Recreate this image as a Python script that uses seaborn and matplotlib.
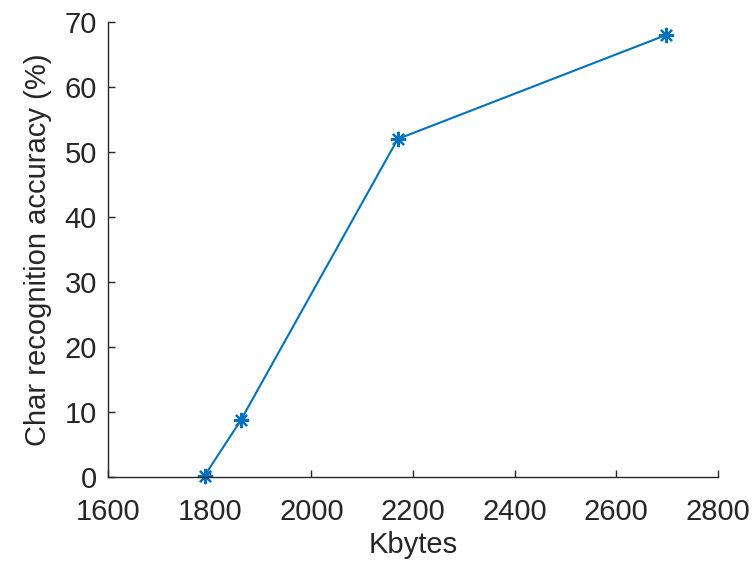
import matplotlib
matplotlib.use("Agg")
import matplotlib.pyplot as plt
import seaborn as sns
import pandas as pd

# Model size (Kbytes) vs character recognition accuracy (%)
kbytes = [1790, 1861, 2170, 2698]
accuracy = [0.2, 8.7, 52, 68]

x_ticks = [1600, 1800, 2000, 2200, 2400, 2600, 2800]
y_ticks = [0, 10, 20, 30, 40, 50, 60, 70]

sns.set_style("ticks")
plt.rcParams["font.family"] = ["Liberation Sans", "DejaVu Sans"]

df = pd.DataFrame({"Kbytes": kbytes, "acc": accuracy})

fig = plt.figure(figsize=(7.56, 5.67), dpi=100)
ax = fig.add_axes([108 / 756, 1 - 477 / 567, (718 - 108) / 756, (477 - 22) / 567])

sns.lineplot(data=df, x="Kbytes", y="acc", ax=ax, color="#0072BD",
             linewidth=1.5, marker=(8, 2, 0), markersize=11,
             markeredgewidth=1.6, markeredgecolor="#0072BD", clip_on=False)

ax.set_xlim(1600, 2800)
ax.set_ylim(0, 70)
ax.set_xticks(x_ticks)
ax.set_yticks(y_ticks)

text_col = "#262626"
ax.tick_params(axis="both", direction="in", length=5, width=1, colors=text_col,
               labelsize=21)
ax.tick_params(axis="x", pad=15)
ax.tick_params(axis="y", pad=8)
for side in ("top", "right"):
    ax.spines[side].set_visible(False)
for side in ("left", "bottom"):
    ax.spines[side].set_color(text_col)
    ax.spines[side].set_linewidth(1)

ax.set_xlabel("Kbytes", fontsize=21, color=text_col, labelpad=4)
ax.set_ylabel("Char recognition accuracy (%)", fontsize=21, color=text_col, labelpad=9)

fig.savefig("out.png", dpi=100)
